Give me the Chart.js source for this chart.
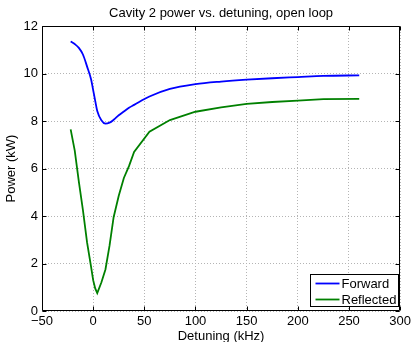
<!DOCTYPE html>
<html><head><meta charset="utf-8">
<script src="https://cdn.jsdelivr.net/npm/chart.js@4/dist/chart.umd.min.js"></script>
<style>html,body{margin:0;padding:0;background:#fff}#wrap{width:414px;height:342px}</style>
</head><body><div id="wrap"><canvas id="c" width="414" height="342"></canvas></div>
<script>
const detuning  = [-22, -18, -14, -10, -6, -2, 0, 2, 4, 8, 12, 16, 20, 25, 30, 35, 40, 55, 75, 100, 125, 150, 175, 200, 225, 260];
const forward   = [11.35, 11.24, 11.08, 10.8, 10.3, 9.75, 9.3, 8.85, 8.42, 8.03, 7.89, 7.93, 8.05, 8.24, 8.4, 8.56, 8.68, 9.03, 9.35, 9.55, 9.66, 9.74, 9.8, 9.85, 9.9, 9.92];
const reflected = [7.65, 6.75, 5.45, 4.25, 2.9, 1.85, 1.3, 0.95, 0.75, 1.2, 1.75, 2.75, 3.95, 4.85, 5.6, 6.1, 6.7, 7.55, 8.04, 8.39, 8.57, 8.72, 8.8, 8.86, 8.92, 8.93];
const xTicks = [-50, 0, 50, 100, 150, 200, 250, 300];
const yTicks = [0, 2, 4, 6, 8, 10, 12];
const seriesNames = ['Forward', 'Reflected'];
const titleText = 'Cavity 2 power vs. detuning, open loop';
const xTitle = 'Detuning (kHz)';
const yTitle = 'Power (kW)';

const FONT = "'Liberation Sans', Arial, Helvetica, sans-serif";
const colors = ['#0000ff', '#008000'];

const pts = ys => detuning.map((x, i) => ({x: x, y: ys[i]}));

const framePlugin = {
  id: 'frame',
  afterDatasetsDraw(chart) {
    const ctx = chart.ctx, a = chart.chartArea;
    const xs = chart.scales.x, ys = chart.scales.y;
    ctx.save();
    ctx.strokeStyle = '#000';
    ctx.lineWidth = 1;
    ctx.beginPath();
    const L = Math.round(a.left) + 0.5, R = Math.round(a.right) - 0.5;
    const T = Math.round(a.top) + 0.5, B = Math.round(a.bottom) - 0.5;
    ctx.rect(L, T, R - L, B - T);
    const tl = 4;
    xTicks.forEach(v => {
      const px = Math.round(xs.getPixelForValue(v)) + 0.5;
      ctx.moveTo(px, B); ctx.lineTo(px, B - tl);
      ctx.moveTo(px, T); ctx.lineTo(px, T + tl);
    });
    yTicks.forEach(v => {
      const py = Math.round(ys.getPixelForValue(v)) + 0.5;
      ctx.moveTo(L, py); ctx.lineTo(L + tl, py);
      ctx.moveTo(R, py); ctx.lineTo(R - tl, py);
    });
    ctx.stroke();
    ctx.restore();
  },
  afterDraw(chart) {
    const ctx = chart.ctx, a = chart.chartArea;
    ctx.save();
    ctx.fillStyle = '#000';
    ctx.font = '13px ' + FONT;
    ctx.textAlign = 'center';
    ctx.textBaseline = 'middle';
    ctx.fillText(titleText, (a.left + a.right) / 2, 13);
    const bx = 310.5, by = 274.5, bw = 88, bh = 32;
    ctx.fillStyle = '#fff';
    ctx.fillRect(bx, by, bw, bh);
    ctx.strokeStyle = '#000';
    ctx.lineWidth = 1;
    ctx.strokeRect(bx, by, bw, bh);
    ctx.textAlign = 'left';
    chart.data.datasets.forEach((ds, i) => {
      const yy = by + 9 + i * 16;
      ctx.strokeStyle = ds.borderColor;
      ctx.lineWidth = 1.8;
      ctx.beginPath();
      ctx.moveTo(bx + 5, yy); ctx.lineTo(bx + 29, yy);
      ctx.stroke();
      ctx.fillStyle = '#000';
      ctx.fillText(ds.label, bx + 31, yy + 0.5);
    });
    ctx.restore();
  }
};

new Chart(document.getElementById('c'), {
  type: 'scatter',
  data: {
    datasets: [
      {label: seriesNames[0], data: pts(forward), borderColor: colors[0], backgroundColor: colors[0],
       showLine: true, pointRadius: 0, borderWidth: 1.8, cubicInterpolationMode: 'monotone'},
      {label: seriesNames[1], data: pts(reflected), borderColor: colors[1], backgroundColor: colors[1],
       showLine: true, pointRadius: 0, borderWidth: 1.8, tension: 0}
    ]
  },
  options: {
    responsive: false,
    animation: false,
    devicePixelRatio: 1,
    layout: {padding: {top: 26, right: 11, left: 0, bottom: 0}},
    plugins: {legend: {display: false}, title: {display: false}, tooltip: {enabled: false}},
    scales: {
      x: {
        type: 'linear', min: -50, max: 300,
        afterBuildTicks: s => { s.ticks = xTicks.map(v => ({value: v})); },
        afterFit: s => { s.height = 31; },
        ticks: {color: '#000', font: {family: FONT, size: 13}, padding: 3,
                callback: v => String(v).replace('-', '\u2212'), maxRotation: 0, autoSkip: false},
        grid: {color: '#b4b4b4', drawTicks: false},
        border: {display: false, dash: [1, 2]},
        title: {display: true, text: xTitle, color: '#000', font: {family: FONT, size: 13}, padding: {top: 0, bottom: -2}}
      },
      y: {
        min: 0, max: 12,
        afterBuildTicks: s => { s.ticks = yTicks.map(v => ({value: v})); },
        afterFit: s => { s.width = 42; },
        ticks: {color: '#000', font: {family: FONT, size: 13}, padding: 4, autoSkip: false},
        grid: {color: '#b4b4b4', drawTicks: false},
        border: {display: false, dash: [1, 2]},
        title: {display: true, text: yTitle, color: '#000', font: {family: FONT, size: 13}, padding: {top: 4, bottom: 0}}
      }
    }
  },
  plugins: [framePlugin]
});
</script>
</body></html>
